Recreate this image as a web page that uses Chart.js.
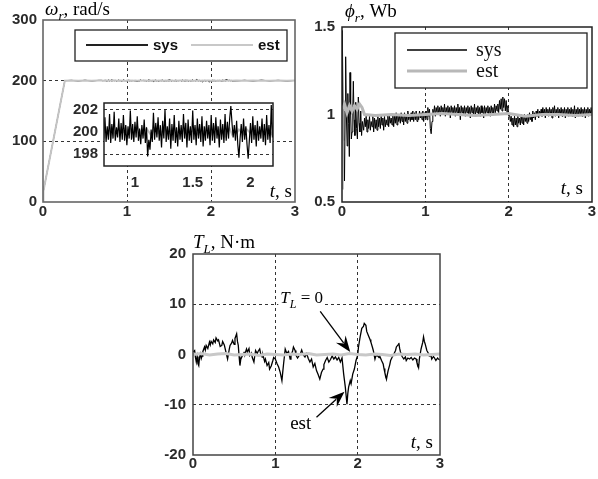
<!DOCTYPE html>
<html>
<head>
<meta charset="utf-8">
<script src="https://cdn.jsdelivr.net/npm/chart.js@4.4.1/dist/chart.umd.min.js"></script>
<style>
  body { margin: 0; background: #fff; }
  #wrap { position: relative; width: 598px; height: 479px; overflow: hidden; background: #fff; }
  #wrap canvas { position: absolute; }
</style>
</head>
<body>
<div id="wrap">
  <canvas id="speedChart" width="310" height="225" style="left:0;top:0"></canvas>
  <canvas id="fluxChart" width="298" height="225" style="left:300px;top:0"></canvas>
  <canvas id="torqueChart" width="300" height="249" style="left:150px;top:230px"></canvas>
  <canvas id="speedZoom" width="230" height="112" style="left:60px;top:88px"></canvas>
</div>
<script>
// ---- speed (omega_r, rad/s) ----
const speedRampT = [0, 0.005, 0.26];
const speedRampV = [0, 18, 200];
const speedHeadT = [0.34, 0.42, 0.5, 0.58, 0.66];
const speedHeadSys = [200.6, 199.3, 200.8, 199.4, 200.5];
const speedHeadEst = [200.2, 199.9, 200.1, 199.8, 200.1];
// dense part shown in the zoomed inset, sampled every 0.01 s from 0.70 s
const SPEED_T0 = 0.70, SPEED_DT = 0.01;
const speedSys = [
  200.6, 199.2, 200.9, 199.4, 201.3, 199.1, 200.5, 199.3, 201.6, 199.0,
  200.7, 199.4, 201.8, 199.2, 200.4, 199.5, 201.2, 199.1, 200.8, 199.3,
  201.5, 199.2, 200.6, 198.8, 200.5, 199.4, 201.9, 199.3, 200.7, 199.1,
  200.9, 199.5, 201.4, 199.2, 200.3, 198.9, 200.6, 199.4, 201.1, 199.0,
  200.4, 197.8, 199.3, 198.4, 200.2, 199.1, 201.7, 199.3, 200.8, 199.5,
  201.3, 199.2, 200.6, 198.6, 201.0, 199.4, 202.0, 199.1, 200.5, 199.3,
  201.2, 198.5, 200.7, 199.2, 201.5, 199.0, 200.4, 198.7, 201.0, 199.3,
  200.6, 199.1, 201.6, 199.4, 200.8, 198.6, 201.1, 199.2, 200.5, 199.0,
  201.9, 199.3, 200.6, 198.8, 201.2, 199.4, 200.7, 199.1, 201.4, 198.7,
  200.5, 199.2, 201.0, 199.4, 200.6, 198.8, 201.5, 199.2, 200.8, 199.0,
  201.3, 199.4, 200.5, 198.6, 201.1, 199.3, 200.7, 199.0, 201.6, 199.2,
  200.9, 199.4, 201.2, 202.3, 200.8, 199.5, 200.6, 199.2, 201.0, 198.9,
  197.7, 199.4, 200.7, 199.1, 201.2, 199.3, 200.5, 198.9, 197.6, 199.2,
  200.8, 199.0, 201.4, 199.3, 200.6, 198.7, 201.0, 199.2, 200.5, 199.4,
  201.2, 199.1, 200.7, 198.8, 201.5, 199.3, 200.6, 199.0, 202.4, 199.5,
  200.9, 199.2, 201.3, 199.4, 200.6, 199.1
];
const SPEED_EST_DT = 0.02;
const speedEst = [
  200.1, 199.8, 200.3, 199.9, 200.2, 200.4, 199.7, 200.1, 200.3, 199.9,
  200.0, 200.4, 199.8, 200.2, 199.6, 200.1, 200.5, 199.9, 200.2, 199.8,
  200.3, 200.0, 199.7, 200.2, 200.4, 199.9, 200.1, 199.8, 200.3, 200.0,
  199.9, 200.2, 200.4, 199.8, 200.1, 199.7, 200.3, 200.0, 200.2, 199.9,
  200.1, 200.3, 199.8, 200.0, 200.2, 199.9, 200.4, 200.1, 199.8, 200.2,
  200.6, 200.3, 199.9, 200.1, 199.6, 200.0, 200.3, 199.8, 200.1, 199.9,
  200.2, 200.0, 199.8, 200.3, 200.1, 199.9, 200.2, 200.4, 199.8, 200.0,
  200.1, 199.9, 200.3, 200.0, 199.8, 200.2, 200.1, 200.0
];
const speedTailT = [2.3, 2.4, 2.5, 2.6, 2.7, 2.8, 2.9, 3.0];
const speedTailSys = [199.4, 200.7, 199.2, 200.9, 199.5, 200.6, 199.3, 200.4];
const speedTailEst = [200.1, 199.9, 200.2, 200.0, 199.8, 200.1, 200.0, 200.1];

// ---- rotor flux (phi_r, Wb) ----
const fluxHeadT = [0, 0.004, 0.012, 0.02, 0.03, 0.038, 0.044, 0.052, 0.062, 0.07,
  0.08, 0.088, 0.096, 0.104, 0.112, 0.12, 0.13, 0.136, 0.145, 0.155,
  0.165, 0.175, 0.185, 0.196, 0.205, 0.215, 0.225, 0.235, 0.245];
const fluxHeadSys = [1.0, 1.48, 1.05, 0.85, 0.62, 1.02, 1.33, 1.0, 0.82, 1.12,
  0.95, 0.76, 1.24, 1.0, 0.86, 0.9, 1.05, 1.19, 0.97, 0.88,
  1.07, 0.92, 0.86, 1.1, 0.95, 0.9, 1.02, 0.88, 0.96];
// sampled every 0.01 s from 0.26 s
const FLUX_T0 = 0.26, FLUX_DT = 0.01;
const fluxSys = [
  0.91, 0.98, 0.93, 0.99, 0.90, 0.97, 0.92, 0.99, 0.91, 0.96,
  0.93, 0.99, 0.90, 0.98, 0.92, 0.97, 0.91, 0.99, 0.93, 0.98,
  0.92, 0.99, 0.94, 0.98, 0.91, 0.99, 0.93, 0.97, 0.94, 1.00,
  0.93, 0.99, 0.95, 0.98, 0.94, 1.00, 0.93, 0.99, 0.95, 1.01,
  0.94, 1.00, 0.96, 0.99, 0.95, 1.01, 0.96, 0.99, 0.94, 1.01,
  0.96, 1.00, 0.95, 1.02, 0.97, 1.00, 0.96, 1.01, 0.97, 1.02,
  0.96, 1.01, 0.97, 1.02, 0.96, 1.00, 0.97, 1.02, 0.98, 1.01,
  0.97, 1.02, 0.96, 1.01, 0.98, 1.02, 0.97, 1.04, 0.99, 1.03,
  0.92, 0.89, 0.96, 1.03, 1.00, 1.05, 0.99, 1.04, 1.01, 1.05,
  1.00, 1.04, 0.99, 1.05, 1.01, 1.04, 1.00, 1.06, 0.99, 1.04,
  1.01, 1.05, 1.00, 1.04, 0.98, 1.05, 1.01, 1.04, 1.00, 1.05,
  0.99, 1.04, 1.01, 1.06, 1.00, 1.04, 0.97, 1.05, 1.01, 1.04,
  1.00, 1.05, 0.99, 1.04, 1.01, 1.05, 1.00, 1.04, 0.98, 1.05,
  1.01, 1.04, 1.00, 1.06, 0.99, 1.04, 1.01, 1.05, 1.00, 1.04,
  0.99, 1.05, 1.01, 1.04, 0.98, 1.05, 1.00, 1.04, 1.01, 1.05,
  1.00, 1.04, 0.99, 1.05, 1.01, 1.04, 1.00, 1.06, 1.01, 1.05,
  1.02, 1.06, 1.01, 1.08, 1.03, 1.09, 1.02, 1.10, 1.04, 1.09,
  1.02, 1.08, 1.01, 1.05, 0.99, 1.00, 0.96, 0.99, 0.94, 0.98,
  0.93, 0.99, 0.94, 0.98, 0.93, 0.99, 0.95, 0.98, 0.94, 1.00,
  0.95, 0.99, 0.94, 1.00, 0.96, 0.99, 0.95, 1.00, 0.96, 1.01,
  0.97, 1.00, 0.96, 1.02, 0.98, 1.01, 0.97, 1.02, 0.99, 1.03,
  0.98, 1.02, 1.00, 1.03, 0.99, 1.04, 1.00, 1.03, 0.98, 1.04,
  1.00, 1.03, 0.99, 1.04, 1.00, 1.03, 0.98, 1.04, 1.00, 1.05,
  0.99, 1.03, 1.00, 1.04, 0.98, 1.03, 1.00, 1.04, 0.99, 1.03,
  1.00, 1.04, 0.98, 1.03, 1.00, 1.04, 0.99, 1.03, 1.00, 1.04,
  0.99, 1.03, 1.00, 1.05, 0.98, 1.03, 1.00, 1.04, 0.99, 1.03,
  1.00, 1.04, 0.99, 1.03, 1.00, 1.04, 0.98, 1.03, 1.00, 1.04,
  0.99, 1.03, 1.00, 1.04, 1.00
];
const fluxEstT = [0, 0.004, 0.03, 0.06, 0.09, 0.12, 0.15, 0.18, 0.21, 0.24, 0.27,
  0.4, 0.6, 0.8, 1.0, 1.2, 1.4, 1.6, 1.8, 2.0, 2.2, 2.4, 2.6, 2.8, 3.0];
const fluxEst = [0.58, 1.03, 1.06, 1.01, 1.05, 1.02, 1.05, 1.03, 1.06, 1.04, 1.0,
  0.995, 1.0, 0.995, 1.0, 1.005, 1.0, 0.995, 1.0, 1.005, 0.99, 1.0, 1.0, 0.995, 1.0];

// ---- load torque (T_L, N.m) ----
const torqueT = [
  0, 0.02, 0.03, 0.04, 0.05, 0.06, 0.07, 0.08, 0.09, 0.10,
  0.11, 0.12, 0.14, 0.15, 0.16, 0.18, 0.20, 0.21, 0.22, 0.24,
  0.25, 0.27, 0.28, 0.30, 0.31, 0.33, 0.35, 0.36, 0.38, 0.40,
  0.41, 0.42, 0.44, 0.45, 0.47, 0.48, 0.50, 0.51, 0.53, 0.54,
  0.55, 0.56, 0.57, 0.58, 0.60, 0.62, 0.63, 0.65, 0.66, 0.68,
  0.69, 0.71, 0.72, 0.74, 0.75, 0.76, 0.78, 0.79, 0.81, 0.82,
  0.84, 0.85, 0.87, 0.88, 0.90, 0.92, 0.93, 0.95, 0.97, 0.98,
  1.00, 1.02, 1.04, 1.06, 1.08, 1.09, 1.10, 1.11, 1.12, 1.14,
  1.16, 1.18, 1.19, 1.21, 1.22, 1.24, 1.25, 1.27, 1.29, 1.31,
  1.32, 1.34, 1.36, 1.38, 1.40, 1.42, 1.44, 1.46, 1.48, 1.50,
  1.52, 1.54, 1.56, 1.58, 1.59, 1.61, 1.63, 1.65, 1.67, 1.69,
  1.71, 1.73, 1.75, 1.77, 1.79, 1.81, 1.83, 1.85, 1.87, 1.88,
  1.89, 1.91, 1.92, 1.94, 1.96, 1.98, 2.00, 2.01, 2.03, 2.05,
  2.07, 2.08, 2.10, 2.11, 2.13, 2.15, 2.16, 2.18, 2.19, 2.21,
  2.22, 2.24, 2.26, 2.27, 2.29, 2.31, 2.32, 2.33, 2.35, 2.36,
  2.37, 2.39, 2.40, 2.42, 2.44, 2.46, 2.47, 2.49, 2.50, 2.51,
  2.52, 2.54, 2.56, 2.58, 2.59, 2.61, 2.63, 2.65, 2.67, 2.69,
  2.71, 2.72, 2.74, 2.75, 2.77, 2.79, 2.80, 2.81, 2.82, 2.84,
  2.86, 2.87, 2.89, 2.90, 2.92, 2.93, 2.95, 2.97, 2.98, 3.00
];
const torqueSys = [
  0.5, 0.8, -0.6, -1.5, -0.4, -1.8, -2.2, -0.5, 0.1, -0.8,
  -0.3, 0.6, 1.5, 0.9, 1.8, 1.2, 2.5, 1.9, 2.6, 2.1,
  2.9, 2.4, 3.3, 2.7, 2.9, 1.6, 1.8, 2.6, 1.9, 0.5,
  -0.2, -0.9, 1.0, 1.8, 2.3, 2.8, 2.0, 3.2, 4.1, 2.6,
  1.8, -0.4, -2.2, -1.0, -0.2, 0.4, 0.1, 1.1, 0.5, 1.2,
  -0.2, 0.3, -0.6, -1.5, -0.3, 0.8, 0.2, 0.6, 1.1, 0.3,
  -0.5, -0.1, -1.4, -0.9, -2.2, -1.6, -2.9, -2.3, -1.2, -0.6,
  -0.9, -1.8, -2.5, -3.6, -5.2, -3.5, -1.9, -0.4, 1.1, 0.2,
  0.6, -0.9, -0.2, 0.7, 1.5, 0.8, -0.1, -0.7, -0.2, 0.4,
  0.9, -0.1, -0.5, 0.2, -0.8, -1.5, -0.9, -2.5, -1.8, -3.2,
  -4.0, -4.9, -3.6, -2.9, -2.0, -1.2, -0.6, -1.5, -1.0, -0.3,
  -0.9, -0.5, -1.1, -0.6, -1.5, -0.7, -3.9, -6.5, -9.9, -7.8,
  -6.5, -5.2, -5.8, -3.9, -2.9, -1.2, -0.2, 1.5, 3.5, 5.2,
  5.6, 6.2, 5.8, 4.6, 3.8, 3.0, 2.5, 1.4, 0.8, -0.9,
  -0.3, -0.2, -0.6, -0.4, -1.2, -1.9, -2.8, -3.6, -4.9, -4.0,
  -3.2, -2.0, -1.2, -0.5, 0.1, 0.8, 1.5, 1.9, 2.3, 1.2,
  0.5, -0.4, -0.9, -0.5, -1.2, -0.7, -0.9, -0.6, -1.1, -0.7,
  -0.9, -1.6, -2.6, -0.8, 1.1, 2.4, 3.5, 2.6, 2.1, 0.8,
  0.2, -0.3, -0.2, -0.9, -0.4, -0.6, -1.2, -0.7, -0.9, -1.1
];
const TORQUE_EST_DT = 0.1;
const torqueEst = [0.0, 0.2, -0.1, 0.1, 0.2, -0.1, 0.0, 0.1, -0.2, 0.1, 0.0,
  -0.1, 0.1, 0.0, 0.2, -0.1, 0.0, 0.1, -0.1, 0.2, 0.0,
  -0.1, 0.1, 0.0, -0.2, 0.1, 0.0, 0.1, -0.1, 0.0, 0.1];

const timeTicks = [0, 1, 2, 3];
const speedTicks = [0, 100, 200, 300];
const speedZoomTimeTicks = [1, 1.5, 2];
const speedZoomTicks = [198, 200, 202];
const fluxTicks = [0.5, 1, 1.5];
const torqueTicks = [-20, -10, 0, 10, 20];

const SERIF = '"Liberation Serif", "Times New Roman", serif';
const SANS = '"Liberation Sans", Arial, sans-serif';
const SYS_COLOR = '#000';
const EST_COLOR = '#b8b8b8';

Chart.defaults.animation = false;
Chart.defaults.font.family = SANS;
Chart.defaults.plugins.legend.display = false;
Chart.defaults.plugins.tooltip.enabled = false;
Chart.defaults.events = [];

function toPoints(ts, vs) {
  return vs.map((v, i) => ({ x: ts[i], y: v }));
}

function stepPoints(t0, dt, vs) {
  return vs.map((v, i) => ({ x: Math.round((t0 + i * dt) * 1000) / 1000, y: v }));
}

function fontOf(p, size) {
  const s = p.sub ? Math.round(size * 0.7) : size;
  return (p.i ? 'italic ' : '') + s + 'px ' + SERIF;
}

// text with italic symbols and subscripts, e.g. omega_r
function drawRich(ctx, x, y, parts, size, right, bg) {
  ctx.save();
  ctx.textBaseline = 'alphabetic';
  ctx.textAlign = 'left';
  let w = 0;
  parts.forEach(p => { ctx.font = fontOf(p, size); w += ctx.measureText(p.t).width; });
  let cx = right ? x - w : x;
  if (bg) {
    ctx.fillStyle = '#fff';
    ctx.fillRect(cx - 2, y - size * 0.78, w + 4, size * 1.1);
  }
  ctx.fillStyle = '#000';
  parts.forEach(p => {
    ctx.font = fontOf(p, size);
    ctx.fillText(p.t, cx, y + (p.sub ? size * 0.28 : 0));
    cx += ctx.measureText(p.t).width;
  });
  ctx.restore();
}

function drawArrow(ctx, x0, y0, x1, y1) {
  const ang = Math.atan2(y1 - y0, x1 - x0);
  const len = 16, half = 6;
  const c = Math.cos(ang), s = Math.sin(ang);
  ctx.save();
  ctx.strokeStyle = '#000';
  ctx.fillStyle = '#000';
  ctx.lineWidth = 1.3;
  ctx.beginPath();
  ctx.moveTo(x0, y0);
  ctx.lineTo(x1 - c * len * 0.7, y1 - s * len * 0.7);
  ctx.stroke();
  ctx.beginPath();
  ctx.moveTo(x1, y1);
  ctx.lineTo(x1 - c * len - s * half, y1 - s * len + c * half);
  ctx.lineTo(x1 - c * len * 0.65, y1 - s * len * 0.65);
  ctx.lineTo(x1 - c * len + s * half, y1 - s * len - c * half);
  ctx.closePath();
  ctx.fill();
  ctx.restore();
}

const framePlugin = {
  id: 'frame',
  defaults: { color: '#333', width: 1.5, fill: null },
  beforeDraw(chart, args, opts) {
    if (!opts.fill) return;
    const { ctx, chartArea: a } = chart;
    ctx.save();
    ctx.fillStyle = opts.fill;
    ctx.fillRect(a.left, a.top, a.right - a.left, a.bottom - a.top);
    ctx.restore();
  },
  afterDraw(chart, args, opts) {
    const { ctx, chartArea: a } = chart;
    ctx.save();
    ctx.strokeStyle = opts.color;
    ctx.lineWidth = opts.width;
    ctx.strokeRect(a.left, a.top, a.right - a.left, a.bottom - a.top);
    ctx.restore();
  }
};

// MATLAB style legend: white box with a border, line sample then label
const boxLegendPlugin = {
  id: 'boxLegend',
  afterDraw(chart, args, opts) {
    if (!opts.box) return;
    const ctx = chart.ctx;
    const [x0, y0, x1, y1] = opts.box;
    ctx.save();
    ctx.fillStyle = '#fff';
    ctx.fillRect(x0, y0, x1 - x0, y1 - y0);
    ctx.strokeStyle = '#222';
    ctx.lineWidth = 1.3;
    ctx.strokeRect(x0, y0, x1 - x0, y1 - y0);
    opts.rows.forEach(r => {
      const ds = chart.data.datasets[r.ds];
      ctx.strokeStyle = r.color || ds.borderColor;
      ctx.lineWidth = r.lw;
      ctx.beginPath();
      ctx.moveTo(r.x0, r.y);
      ctx.lineTo(r.x1, r.y);
      ctx.stroke();
      ctx.fillStyle = '#111';
      ctx.font = opts.font;
      ctx.textBaseline = 'middle';
      ctx.fillText(ds.label, r.tx, r.y + 1);
    });
    ctx.restore();
  }
};

const notesPlugin = {
  id: 'notes',
  afterDraw(chart, args, opts) {
    const ctx = chart.ctx;
    (opts.items || []).forEach(it => drawRich(ctx, it.x, it.y, it.parts, it.size, it.right));
    const xs = chart.scales.x, ys = chart.scales.y;
    (opts.labels || []).forEach(l => drawRich(ctx,
      xs.getPixelForValue(l.at[0]), ys.getPixelForValue(l.at[1]), l.parts, l.size, false, l.bg));
    (opts.arrows || []).forEach(a => drawArrow(ctx,
      xs.getPixelForValue(a.from[0]), ys.getPixelForValue(a.from[1]),
      xs.getPixelForValue(a.to[0]), ys.getPixelForValue(a.to[1])));
  }
};

Chart.register(framePlugin, boxLegendPlugin, notesPlugin);

function axis(o) {
  return {
    type: 'linear',
    min: o.min,
    max: o.max,
    afterBuildTicks: s => { s.ticks = o.ticks.map(v => ({ value: v })); },
    afterFit: s => {
      if (o.width != null) s.width = o.width;
      if (o.height != null) s.height = o.height;
    },
    grid: {
      drawTicks: false,
      lineWidth: 1,
      color: c => (c.tick && o.grid.includes(c.tick.value)) ? '#333' : 'rgba(0,0,0,0)'
    },
    border: { display: false, dash: [3, 3] },
    ticks: {
      padding: o.pad,
      color: '#2a2a2a',
      font: { size: 15, family: SANS, weight: 'bold' },
      autoSkip: false,
      maxRotation: 0,
      callback: v => String(v)
    }
  };
}

function line(label, data, color, width, order) {
  return { label, data, borderColor: color, borderWidth: width, pointRadius: 0,
    tension: 0, fill: false, order, clip: 0 };
}

const tS = [{ t: 't', i: true }, { t: ', s' }];

// speed, full range
new Chart(document.getElementById('speedChart'), {
  type: 'line',
  data: {
    datasets: [
      line('sys', [
        ...toPoints(speedRampT, speedRampV),
        ...toPoints(speedHeadT, speedHeadSys),
        ...stepPoints(SPEED_T0, SPEED_DT, speedSys),
        ...toPoints(speedTailT, speedTailSys)
      ], SYS_COLOR, 1, 1),
      line('est', [
        ...toPoints(speedRampT, speedRampV),
        ...toPoints(speedHeadT, speedHeadEst),
        ...stepPoints(SPEED_T0, SPEED_EST_DT, speedEst),
        ...toPoints(speedTailT, speedTailEst)
      ], '#c4c4c4', 2, 0)
    ]
  },
  options: {
    responsive: false,
    layout: { padding: { top: 20, right: 15, left: 0, bottom: 0 } },
    scales: {
      x: axis({ min: 0, max: 3, ticks: timeTicks, grid: [1, 2], height: 23, pad: 1 }),
      y: axis({ min: 0, max: 300, ticks: speedTicks, grid: [100, 200], width: 43, pad: 6 })
    },
    plugins: {
      frame: { color: '#666', width: 1.6 },
      boxLegend: {
        box: [75, 30, 287, 61],
        font: 'bold 15px ' + SANS,
        rows: [
          { ds: 0, x0: 86, x1: 148, y: 45, tx: 153, lw: 2, color: '#222' },
          { ds: 1, x0: 191, x1: 253, y: 45, tx: 258, lw: 2, color: '#c8c8c8' }
        ]
      },
      notes: {
        items: [
          { x: 45, y: 15, size: 19, parts: [{ t: 'ω', i: true }, { t: 'r', i: true, sub: true }, { t: ', rad/s' }] },
          { x: 292, y: 197, size: 19, right: true, parts: tS }
        ]
      }
    }
  }
});

// speed, zoomed inset
new Chart(document.getElementById('speedZoom'), {
  type: 'line',
  data: {
    datasets: [
      line('sys', stepPoints(SPEED_T0, SPEED_DT, speedSys), SYS_COLOR, 1.2, 0),
      line('est', stepPoints(SPEED_T0, SPEED_EST_DT, speedEst), '#bdbdbd', 2, 1)
    ]
  },
  options: {
    responsive: false,
    layout: { padding: { top: 10, right: 17, left: 0, bottom: 0 } },
    scales: {
      x: axis({ min: 0.732, max: 2.195, ticks: speedZoomTimeTicks, grid: [], height: 34, pad: 8 }),
      y: axis({ min: 196.95, max: 202.58, ticks: speedZoomTicks, grid: [198, 202], width: 44, pad: 6 })
    },
    plugins: {
      frame: { color: '#222', width: 1.5, fill: '#fff' }
    }
  }
});

// rotor flux
new Chart(document.getElementById('fluxChart'), {
  type: 'line',
  data: {
    datasets: [
      line('sys', [
        ...toPoints(fluxHeadT, fluxHeadSys),
        ...stepPoints(FLUX_T0, FLUX_DT, fluxSys)
      ], SYS_COLOR, 1, 1),
      line('est', toPoints(fluxEstT, fluxEst), EST_COLOR, 3, 0)
    ]
  },
  options: {
    responsive: false,
    layout: { padding: { top: 27, right: 6, left: 0, bottom: 0 } },
    scales: {
      x: axis({ min: 0, max: 3, ticks: timeTicks, grid: [1, 2], height: 23, pad: 1 }),
      y: axis({ min: 0.5, max: 1.5, ticks: fluxTicks, grid: [], width: 42, pad: 7 })
    },
    plugins: {
      frame: { color: '#222', width: 1.5 },
      boxLegend: {
        box: [95, 33, 287, 88],
        font: '20px ' + SERIF,
        rows: [
          { ds: 0, x0: 107, x1: 167, y: 50, tx: 176, lw: 1.5 },
          { ds: 1, x0: 107, x1: 167, y: 71, tx: 176, lw: 3 }
        ]
      },
      notes: {
        items: [
          { x: 45, y: 17, size: 19, parts: [{ t: 'ϕ', i: true }, { t: 'r', i: true, sub: true }, { t: ', Wb' }] },
          { x: 283, y: 194, size: 19, right: true, parts: tS }
        ]
      }
    }
  }
});

// load torque
new Chart(document.getElementById('torqueChart'), {
  type: 'line',
  data: {
    datasets: [
      line('sys', toPoints(torqueT, torqueSys), SYS_COLOR, 1.3, 1),
      line('est', stepPoints(0, TORQUE_EST_DT, torqueEst), '#c8c8c8', 3, 0)
    ]
  },
  options: {
    responsive: false,
    layout: { padding: { top: 24, right: 10, left: 0, bottom: 0 } },
    scales: {
      x: axis({ min: 0, max: 3, ticks: timeTicks, grid: [1, 2], height: 24, pad: 0 }),
      y: axis({ min: -20, max: 20, ticks: torqueTicks, grid: [-10, 0, 10], width: 43, pad: 7 })
    },
    plugins: {
      frame: { color: '#444', width: 1.5 },
      notes: {
        items: [
          { x: 43, y: 18, size: 19, parts: [{ t: 'T', i: true }, { t: 'L', i: true, sub: true }, { t: ', N·m' }] },
          { x: 283, y: 218, size: 19, right: true, parts: tS }
        ],
        labels: [
          { at: [1.06, 10.3], size: 17, bg: true, parts: [{ t: 'T', i: true }, { t: 'L', i: true, sub: true }, { t: ' = 0' }] },
          { at: [1.18, -14.8], size: 19, parts: [{ t: 'est' }] }
        ],
        arrows: [
          { from: [1.545, 8.6], to: [1.91, 0.5] },
          { from: [1.5, -12.5], to: [1.84, -7.4] }
        ]
      }
    }
  }
});
</script>
</body>
</html>
